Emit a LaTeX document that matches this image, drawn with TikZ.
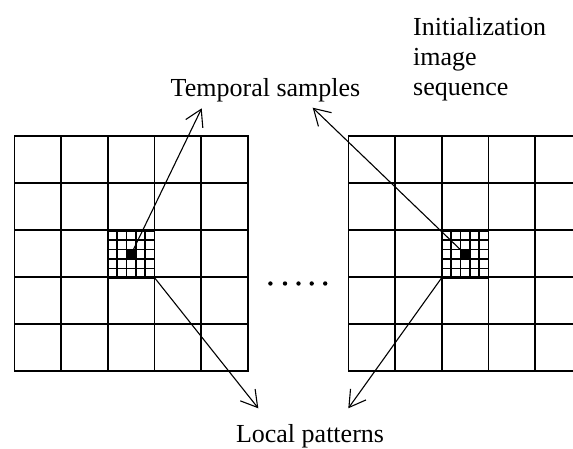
\documentclass[tikz,border=0pt]{standalone}
\usepackage{fontspec}
\setmainfont{Liberation Serif}
\usetikzlibrary{arrows.meta}
\begin{document}
\begin{tikzpicture}[x=1pt,y=-1pt,
  gridline/.style={line width=1.6pt, black, line cap=rect},
  fineline/.style={line width=1.6pt, black, line cap=rect},
  conn/.style={line width=1.1pt, -{Straight Barb[length=16pt,width=19pt,line width=1.1pt]}},
  lbl/.style={inner sep=0pt, font=\fontsize{26}{30}\selectfont},
  blk/.style={fill=black, minimum width=9.35pt, minimum height=9.4pt, inner sep=0pt, draw=none},
  patch/.style={draw=none, minimum width=46.74pt, minimum height=47pt, inner sep=0pt},
]
\clip (0,0) rectangle (573,448);
% large grids
\foreach \ox in {14.3, 348.3} {
  \foreach \i in {0,...,5} \draw[gridline] ({\ox+\i*46.74}, 135.7) -- ({\ox+\i*46.74}, 370.7);
  \foreach \j in {0,...,5} \draw[gridline] (\ox, {135.7+\j*47}) -- ({\ox+233.7}, {135.7+\j*47});
}
% fine grids
\foreach \sx in {107.78, 441.78} {
  \foreach \k in {0,...,5} {
    \draw[fineline] ({\sx+\k*9.348}, 230.7) -- ({\sx+\k*9.348}, 277.7);
    \draw[fineline] (\sx, {230.7+\k*9.4}) -- ({\sx+46.74}, {230.7+\k*9.4});
  }
}
% named patches and samples
\node[patch] (lpatch) at (131.15, 254.2) {};
\node[patch] (rpatch) at (465.15, 254.2) {};
% text
\node[lbl, anchor=base] (ts) at (265.5, 96) {Temporal samples};
\node[lbl, anchor=base] (lpt) at (310, 442) {Local patterns};
\node[lbl, anchor=base west] (in1) at (413, 35) {Initialization};
\node[lbl, anchor=base west] (in2) at (413, 65) {image};
\node[lbl, anchor=base west] (in3) at (413, 95) {sequence};
% arrow ends
\coordinate (tsl) at (201.7, 108.3);
\coordinate (tsr) at (312.7, 107.7);
\coordinate (lpl) at (258.3, 408.3);
\coordinate (lpr) at (348.3, 408.3);
% connectors
\draw[conn] (lpatch.center) -- (tsl);
\draw[conn] (rpatch.center) -- (tsr);
\draw[conn] (lpatch.south east) -- (lpl);
\draw[conn] (rpatch.south west) -- (lpr);
% black sample squares
\node[blk] (lb) at (lpatch.center) {};
\node[blk] (rb) at (rpatch.center) {};
% dots
\foreach \dx in {270.4, 285, 298.5, 311.7, 325.2} \fill[black] (\dx, 283.5) circle (2.2pt);
\end{tikzpicture}
\end{document}
